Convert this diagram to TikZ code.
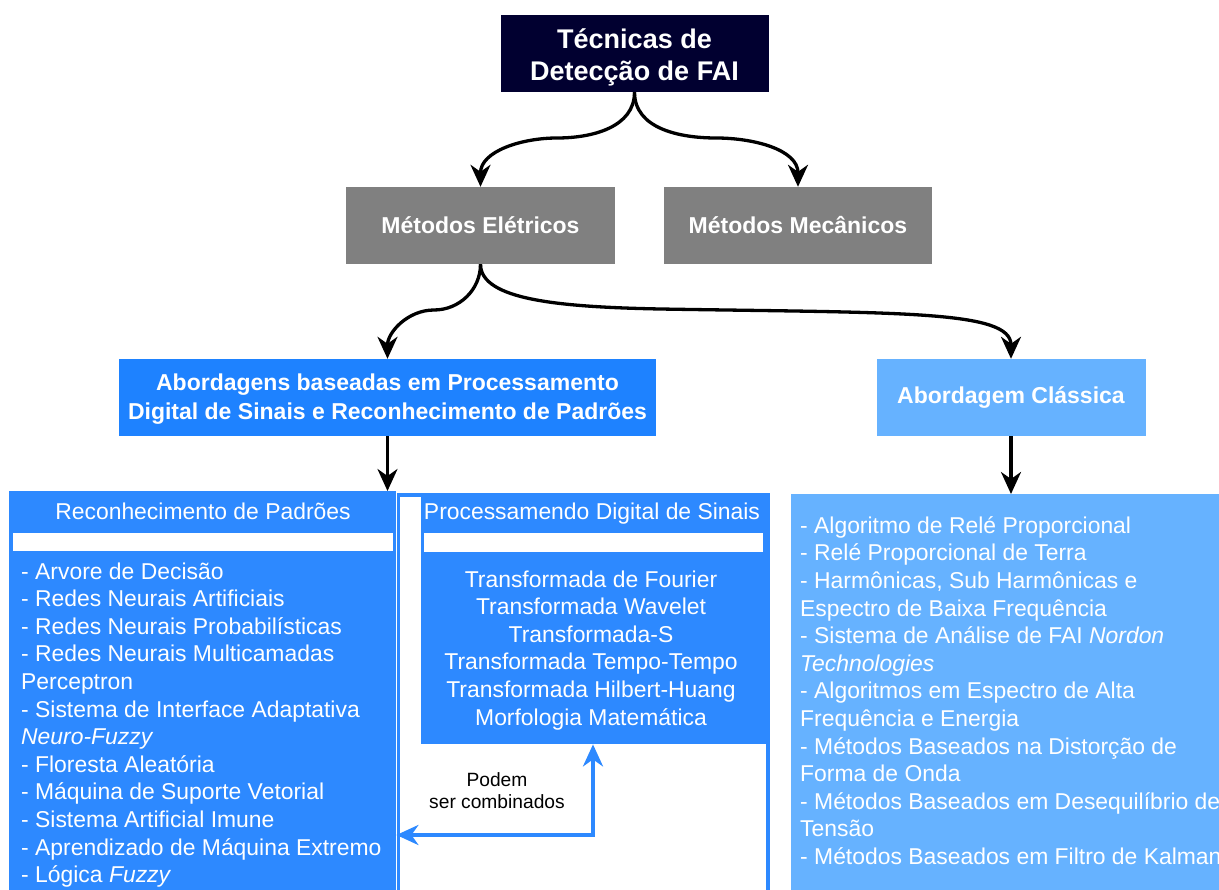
\documentclass[tikz,border=0pt]{standalone}
\usepackage{fontspec}
\setmainfont{Liberation Sans}
\usetikzlibrary{arrows.meta}
\definecolor{navy}{RGB}{1,0,48}
\definecolor{boxgray}{RGB}{128,128,128}
\definecolor{deepblue}{RGB}{30,130,255}
\definecolor{panelblue}{RGB}{45,137,255}
\definecolor{lightblue}{RGB}{102,178,255}
\begin{document}
\begin{tikzpicture}[x=1pt,y=-1pt,
  box/.style={rectangle, inner sep=0pt, align=center, text=white,
    font=\bfseries\fontsize{23}{29}\selectfont},
  boxtext/.style={inner sep=0pt, align=center, text=white, anchor=base,
    font=\bfseries\fontsize{23}{29}\selectfont},
  panel/.style={rectangle, inner sep=0pt, anchor=north west},
  bar/.style={rectangle, inner sep=0pt, anchor=north west, fill=white},
  listtext/.style={inner sep=0pt, text=white, font=\fontsize{22.9}{27.6}\selectfont},
  conn/.style={line width=3.3pt, -{Stealth[length=22pt,width=20pt,inset=7pt]}},
  bluelink/.style={line width=3.5pt, draw=panelblue,
    {Stealth[length=22pt,width=20pt,inset=7pt]}-{Stealth[length=22pt,width=20pt,inset=7pt]}}
]
\clip (0,0) rectangle (1219,890);

% hierarchy boxes
\node[box, fill=navy, minimum width=268pt, minimum height=77pt] (fai) at (634.5,53.5) {};
\node[boxtext, font=\bfseries\fontsize{27}{32.4}\selectfont] (faitext) at (634.5,80.7)
  {Técnicas de\\Detecção de FAI};
\node[box, fill=boxgray, minimum width=269pt, minimum height=77pt] (ele) at (480.5,225.5) {Métodos Elétricos};
\node[box, fill=boxgray, minimum width=268pt, minimum height=77pt] (mec) at (798,225.5) {Métodos Mecânicos};
\node[box, fill=deepblue, minimum width=537pt, minimum height=77pt] (abd) at (387.5,397.5) {};
\node[boxtext] (abdtext) at (387.5,420)
  {Abordagens baseadas em Processamento\\Digital de Sinais e Reconhecimento de Padrões};
\node[box, fill=lightblue, minimum width=269pt, minimum height=77pt] (cla) at (1011,397.5) {Abordagem Clássica};

% lower panels
\node[panel, fill=panelblue, minimum width=387pt, minimum height=420pt] (lp) at (9,491) {};
\node[panel, draw=panelblue, line width=3.5pt, minimum width=369.5pt, minimum height=420pt] (grp) at (396.5,493.5) {};
\node[panel, fill=panelblue, minimum width=347pt, minimum height=251pt] (dsp) at (421,493) {};
\node[panel, fill=lightblue, minimum width=450pt, minimum height=420pt] (rp) at (791,494) {};
\node[bar, minimum width=380pt, minimum height=18pt] (lpbar) at (13,533) {};
\node[bar, minimum width=339pt, minimum height=19pt] (dspbar) at (424,533) {};

\node[listtext, anchor=base] (lptitle) at (203,520) {Reconhecimento de Padrões};
\node[listtext, anchor=base] (dsptitle) at (592,520) {Processamendo Digital de Sinais};

% multi-line texts are placed by the baseline of their last line
\node[listtext, align=left, anchor=base west] (lplist) at (21,882.6) {%
- Arvore de Decisão\\
- Redes Neurais Artificiais\\
- Redes Neurais Probabilísticas\\
- Redes Neurais Multicamadas\\
Perceptron\\
- Sistema de Interface Adaptativa\\
\textit{Neuro-Fuzzy}\\
- Floresta Aleatória\\
- Máquina de Suporte Vetorial\\
- Sistema Artificial Imune\\
- Aprendizado de Máquina Extremo\\
- Lógica \textit{Fuzzy}};

\node[listtext, align=center, anchor=base] (dsplist) at (591,725) {%
Transformada de Fourier\\
Transformada Wavelet\\
Transformada-S\\
Transformada Tempo-Tempo\\
Transformada Hilbert-Huang\\
Morfologia Matemática};

\node[listtext, align=left, anchor=base west] (rplist) at (800,864.5) {%
- Algoritmo de Relé Proporcional\\
- Relé Proporcional de Terra\\
- Harmônicas, Sub Harmônicas e\\
Espectro de Baixa Frequência\\
- Sistema de Análise de FAI \textit{Nordon}\\
\textit{Technologies}\\
- Algoritmos em Espectro de Alta\\
Frequência e Energia\\
- Métodos Baseados na Distorção de\\
Forma de Onda\\
- Métodos Baseados em Desequilíbrio de\\
Tensão\\
- Métodos Baseados em Filtro de Kalman};

% connectors
\draw[conn] (fai.south) to[out=-90,in=0] (557,138) to[out=180,in=90] (ele.north);
\draw[conn] (fai.south) to[out=-90,in=180] (716,138) to[out=0,in=90] (mec.north);
\draw[conn] (ele.south) to[out=-90,in=0] (434,310) to[out=180,in=90] (abd.north);
\draw[conn] (ele.south) .. controls (480.5,300) and (560,307) .. (660,309)
  .. controls (900,313) and (1011,310) .. (cla.north);
\draw[conn] (abd.south) -- (abd.south |- lp.north);
\draw[conn] (cla.south) -- (cla.south |- rp.north);

\coordinate (cmb) at (593,835);
\draw[bluelink] (lp.east |- cmb) -- (cmb) -- (cmb |- dsp.south);
\node[inner sep=0pt, align=center, anchor=base, font=\fontsize{19.2}{21.5}\selectfont] (cmblabel) at (497,808)
  {Podem\\ser combinados};
\end{tikzpicture}
\end{document}
